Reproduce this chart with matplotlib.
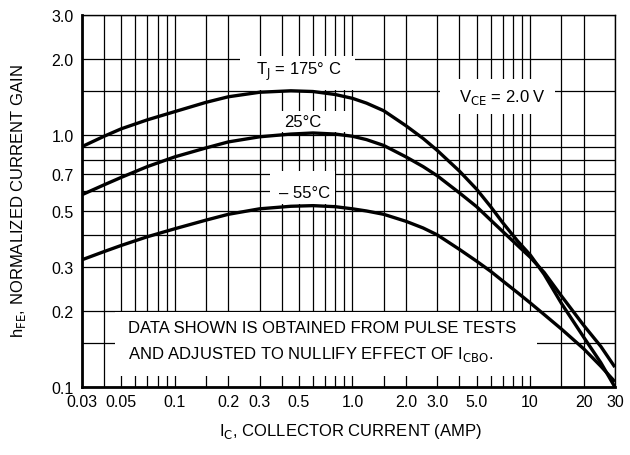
import matplotlib
matplotlib.use('Agg')
import matplotlib.pyplot as plt
from matplotlib.patches import Rectangle
from matplotlib.ticker import FixedLocator, NullFormatter

FONT = ['Liberation Sans Narrow', 'Liberation Sans', 'DejaVu Sans']
plt.rcParams['font.family'] = FONT
plt.rcParams['mathtext.fontset'] = 'custom'
plt.rcParams['mathtext.rm'] = 'Liberation Sans Narrow'
plt.rcParams['mathtext.it'] = 'Liberation Sans Narrow'
plt.rcParams['mathtext.bf'] = 'Liberation Sans Narrow'

# collector current (A)
ic = [0.03, 0.04, 0.05, 0.07, 0.1, 0.15, 0.2, 0.3, 0.45, 0.6, 0.8, 1.0, 1.2, 1.5,
      2.0, 2.5, 3.0, 4.0, 5.0, 6.0, 7.0, 8.5, 10, 12, 15, 20, 25, 30]

# normalized hFE
hfe_175 = [0.90, 0.99, 1.06, 1.15, 1.24, 1.35, 1.42, 1.48, 1.50, 1.49, 1.45, 1.40, 1.34, 1.25,
           1.09, 0.97, 0.87, 0.72, 0.61, 0.52, 0.45, 0.38, 0.335, 0.28, 0.215, 0.158, 0.125, 0.10]
hfe_25 = [0.58, 0.635, 0.68, 0.75, 0.82, 0.89, 0.94, 0.985, 1.01, 1.02, 1.01, 0.99, 0.96, 0.91,
          0.82, 0.75, 0.69, 0.59, 0.52, 0.46, 0.415, 0.365, 0.328, 0.285, 0.23, 0.176, 0.145, 0.12]
hfe_m55 = [0.32, 0.345, 0.365, 0.395, 0.425, 0.46, 0.485, 0.51, 0.522, 0.525, 0.52, 0.51, 0.50, 0.485,
           0.455, 0.428, 0.402, 0.352, 0.316, 0.288, 0.264, 0.237, 0.216, 0.194, 0.170, 0.142, 0.121, 0.105]

x_ticks = [0.03, 0.05, 0.1, 0.2, 0.3, 0.5, 1.0, 2.0, 3.0, 5.0, 10, 20, 30]
x_labels = ['0.03', '0.05', '0.1', '0.2', '0.3', '0.5', '1.0', '2.0', '3.0', '5.0', '10', '20', '30']
x_grid = [0.04, 0.06, 0.07, 0.08, 0.09, 0.15, 0.4, 0.6, 0.7, 0.8, 0.9,
          1.5, 4.0, 6.0, 7.0, 8.0, 9.0, 15]
y_ticks = [0.1, 0.2, 0.3, 0.5, 0.7, 1.0, 2.0, 3.0]
y_labels = ['0.1', '0.2', '0.3', '0.5', '0.7', '1.0', '2.0', '3.0']
y_grid = [0.15, 0.4, 0.6, 0.8, 0.9, 1.5]

fig = plt.figure(figsize=(6.3, 4.56), dpi=100)
ax = fig.add_axes([0.130, 0.149, 0.846, 0.816])
ax.set_xscale('log')
ax.set_yscale('log')
ax.set_xlim(0.03, 30)
ax.set_ylim(0.1, 3.0)

ax.xaxis.set_major_locator(FixedLocator(x_ticks))
ax.xaxis.set_minor_locator(FixedLocator(x_grid))
ax.set_xticklabels(x_labels)
ax.xaxis.set_minor_formatter(NullFormatter())
ax.yaxis.set_major_locator(FixedLocator(y_ticks))
ax.yaxis.set_minor_locator(FixedLocator(y_grid))
ax.set_yticklabels(y_labels)
ax.yaxis.set_minor_formatter(NullFormatter())
ax.tick_params(which='both', length=0, labelsize=11.5, colors='black')
ax.tick_params(axis='x', pad=5)
ax.tick_params(axis='y', pad=6)
ax.grid(which='both', color='black', linewidth=0.9, zorder=0)
ax.set_axisbelow(True)

for s in ['left', 'bottom']:
    ax.spines[s].set_linewidth(2.0)
for s in ['top', 'right']:
    ax.spines[s].set_linewidth(1.0)

# white boxes behind the texts (hide the grid)
boxes = [(0.296, 0.798, 0.216, 0.092),
         (0.362, 0.685, 0.141, 0.057),
         (0.353, 0.492, 0.122, 0.089),
         (0.672, 0.734, 0.215, 0.094),
         (0.062, 0.030, 0.792, 0.172)]
for bx, by, bw, bh in boxes:
    ax.add_patch(Rectangle((bx, by), bw, bh, transform=ax.transAxes,
                           facecolor='white', edgecolor='none', zorder=2))

ax.plot(ic, hfe_175, color='black', linewidth=2.4, zorder=4, solid_capstyle='butt')
ax.plot(ic, hfe_25, color='black', linewidth=2.4, zorder=4, solid_capstyle='butt')
ax.plot(ic, hfe_m55, color='black', linewidth=2.4, zorder=4, solid_capstyle='butt')

fs = 12
ax.text(0.407, 0.849, r'T$_{\rm J}$ = 175° C', transform=ax.transAxes, fontsize=fs,
        ha='center', va='center', zorder=3)
ax.text(0.415, 0.715, '25°C', transform=ax.transAxes, fontsize=fs,
        ha='center', va='center', zorder=3)
ax.text(0.417, 0.524, '– 55°C', transform=ax.transAxes, fontsize=fs,
        ha='center', va='center', zorder=3)
ax.text(0.790, 0.780, r'V$_{\rm CE}$ = 2.0 V', transform=ax.transAxes, fontsize=fs,
        ha='center', va='center', zorder=3)
ax.text(0.086, 0.161, 'DATA SHOWN IS OBTAINED FROM PULSE TESTS', transform=ax.transAxes,
        fontsize=fs, ha='left', va='center', zorder=3)
ax.text(0.086, 0.089, r'AND ADJUSTED TO NULLIFY EFFECT OF I$_{\rm CBO}$.', transform=ax.transAxes,
        fontsize=fs, ha='left', va='center', zorder=3)

fig.text(0.556, 0.053, r'I$_{\rm C}$, COLLECTOR CURRENT (AMP)', fontsize=fs,
         ha='center', va='center')
fig.text(0.029, 0.56, r'h$_{\rm FE}$, NORMALIZED CURRENT GAIN', fontsize=fs,
         ha='center', va='center', rotation=90)

fig.savefig('out.png', dpi=100)
